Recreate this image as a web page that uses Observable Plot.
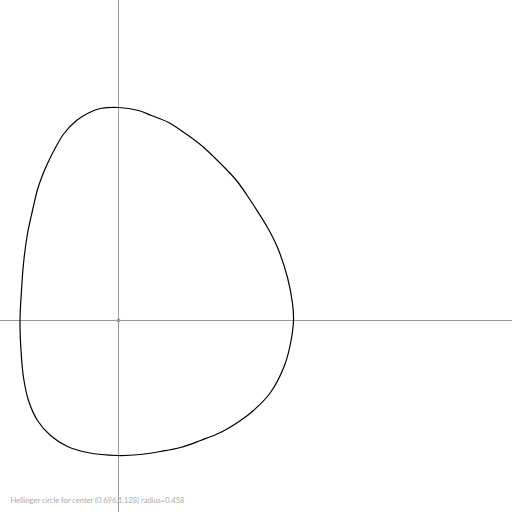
<!DOCTYPE html>
<html><head><meta charset="utf-8">
<script src="https://cdn.jsdelivr.net/npm/d3@7"></script>
<script src="https://cdn.jsdelivr.net/npm/@observablehq/plot@0.6"></script>
<style>body{margin:0;background:#fff}</style>
</head><body><div id="chart"></div>
<script>
const center = {x: 0.696, y: 1.128};
const radius = 0.458;
const curveX = [0.696,0.796,0.861,0.946,1.031,1.111,1.196,1.286,1.356,1.441,1.491,1.541,1.566,1.571,1.556,1.526,1.456,1.371,1.306,1.206,1.106,1.006,0.906,0.806,0.691,0.541,0.441,0.356,0.291,0.246,0.221,0.2085,0.2035,0.211,0.221,0.241,0.266,0.291,0.3135,0.341,0.3785,0.4235,0.486,0.541,0.606];
const curveY = [2.193,2.178,2.153,2.118,2.063,2.003,1.923,1.828,1.728,1.593,1.493,1.343,1.213,1.128,1.013,0.903,0.768,0.678,0.628,0.568,0.528,0.493,0.473,0.458,0.453,0.468,0.498,0.553,0.628,0.728,0.843,0.978,1.128,1.278,1.413,1.563,1.678,1.783,1.848,1.913,1.988,2.063,2.128,2.163,2.188];
const pts = curveX.map((x, i) => ({x, y: curveY[i]}));
const caption = `Hellinger circle for center (${center.x},${center.y}) radius=${radius}`;

const chart = Plot.plot({
  width: 512, height: 512,
  margin: 0,
  x: {domain: [0.106, 2.666], axis: null},
  y: {domain: [0.168, 2.728], axis: null},
  style: {background: "#fff"},
  marks: [
    Plot.ruleX([center.x], {stroke: "#999", strokeWidth: 1}),
    Plot.ruleY([center.y], {stroke: "#999", strokeWidth: 1}),
    Plot.dot([center], {x: "x", y: "y", r: 2, fill: "#999"}),
    Plot.line(pts, {x: "x", y: "y", curve: "catmull-rom-closed", stroke: "#000", strokeWidth: 1.2}),
    Plot.text([caption], {frameAnchor: "bottom-left", dx: 10, dy: -10, text: d => d, fill: "#aaa", fontSize: 7.5, fontFamily: "Lato", textAnchor: "start"})
  ]
});
document.getElementById("chart").append(chart);
</script></body></html>
